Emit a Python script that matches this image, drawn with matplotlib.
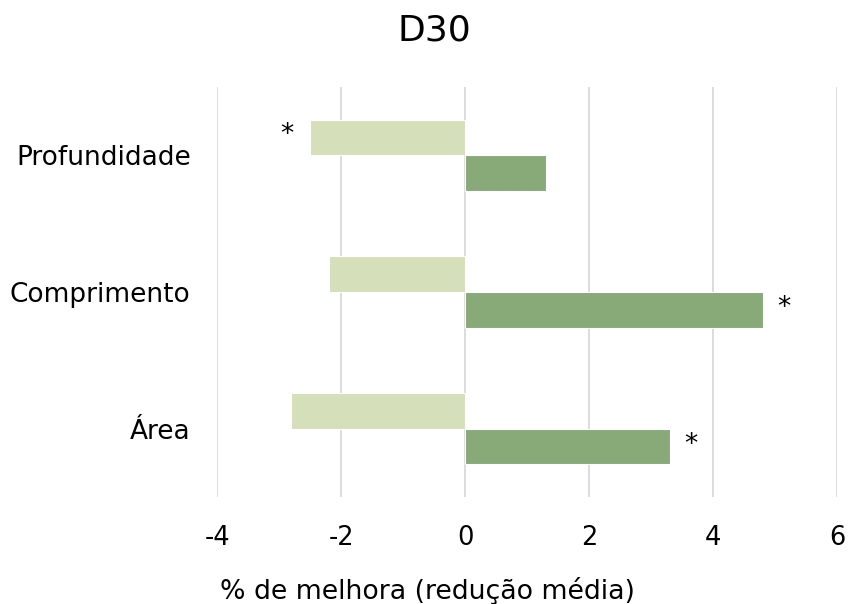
import numpy as np
import matplotlib.pyplot as plt

# dados (de baixo para cima)
categorias = ['Área', 'Comprimento', 'Profundidade']
serie_clara = [-2.8, -2.2, -2.5]
serie_escura = [3.3, 4.8, 1.3]
# asterisco de significância
sig_clara = [False, False, True]
sig_escura = [True, True, False]

cor_clara = '#d5dfb9'
cor_escura = '#88a978'

plt.rcParams['font.family'] = 'DejaVu Sans'
plt.rcParams['axes.unicode_minus'] = False

fig = plt.figure(figsize=(8.48, 6.04), dpi=100)
ax = fig.add_axes([0.256, 0.177, 0.731, 0.679])

y = np.arange(len(categorias))
h = 0.26
ax.barh(y + h / 2, serie_clara, height=h, color=cor_clara, edgecolor='white', linewidth=0.8, zorder=3)
ax.barh(y - h / 2, serie_escura, height=h, color=cor_escura, edgecolor='white', linewidth=0.8, zorder=3)

for i in range(len(categorias)):
    if sig_clara[i]:
        ax.annotate('*', (serie_clara[i], y[i] + h / 2), xytext=(-17, 2), textcoords='offset points',
                    ha='center', va='center', fontsize=19)
    if sig_escura[i]:
        ax.annotate('*', (serie_escura[i], y[i] - h / 2), xytext=(15, 1), textcoords='offset points',
                    ha='center', va='center', fontsize=19)

ax.set_xlim(-4, 6)
ax.set_ylim(-0.5, 2.5)
ax.set_xticks([-4, -2, 0, 2, 4, 6])
ax.set_yticks(y)
ax.set_yticklabels(categorias)
ax.tick_params(length=0, labelsize=18.5)
ax.tick_params(axis='x', pad=20)
ax.tick_params(axis='y', pad=19, labelsize=19)
ax.grid(axis='x', color='#d9d9d9', linewidth=1.3, zorder=0)
for s in ax.spines.values():
    s.set_visible(False)

# título e rótulo do eixo centrados na figura
fig.text(0.504, 0.008, '% de melhora (redução média)', fontsize=19.3, ha='center', va='baseline')
fig.text(0.512, 0.949, 'D30', fontsize=26, ha='center', va='center')

fig.savefig('out.png', dpi=100)
